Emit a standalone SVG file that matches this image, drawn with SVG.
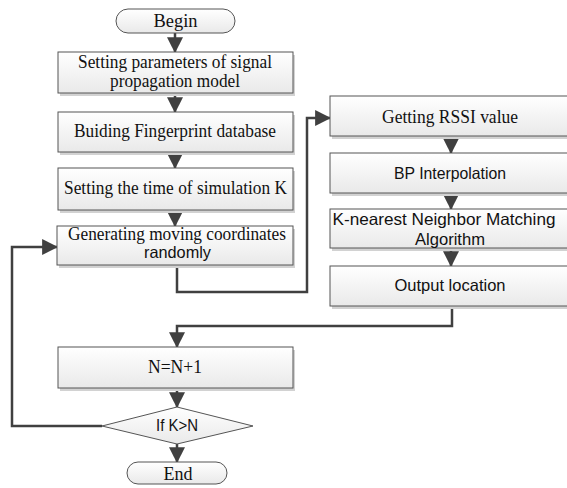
<svg xmlns="http://www.w3.org/2000/svg" width="567" height="488" viewBox="0 0 567 488">
<defs>
<linearGradient id="g" x1="0" y1="0" x2="0" y2="1">
<stop offset="0" stop-color="#ffffff"/>
<stop offset="1" stop-color="#e9e9e9"/>
</linearGradient>
<marker id="ah" markerUnits="userSpaceOnUse" markerWidth="16" markerHeight="16" viewBox="0 0 14 14" refX="13" refY="7" orient="auto">
<path d="M0,0 L14,7 L0,14 Z" fill="#404040"/>
</marker>
</defs>
<style>
.box{fill:url(#g);stroke:#555;stroke-width:1}
.sh{fill:#d2d2d2}
.ser{font-family:"Liberation Serif","Times New Roman",serif;font-size:18px;fill:#111;text-anchor:middle}
.san{font-family:"Liberation Sans",Arial,sans-serif;font-size:16.5px;fill:#111;text-anchor:middle}
.ln{fill:none;stroke:#404040;stroke-width:2.5}
</style>
<rect width="567" height="488" fill="#fff"/>
<g id="connectors">
<path class="ln" d="M175,33 V52" marker-end="url(#ah)"/>
<path class="ln" d="M175,96 V112" marker-end="url(#ah)"/>
<path class="ln" d="M175,155 V168" marker-end="url(#ah)"/>
<path class="ln" d="M175,213 V226" marker-end="url(#ah)"/>
<path class="ln" d="M177,265 V292 H307 V118 H330" marker-end="url(#ah)"/>
<path class="ln" d="M451,139 V153" marker-end="url(#ah)"/>
<path class="ln" d="M451,196 V209" marker-end="url(#ah)"/>
<path class="ln" d="M451,251 V266" marker-end="url(#ah)"/>
<path class="ln" d="M452,306 V326 H177 V347" marker-end="url(#ah)"/>
<path class="ln" d="M177,391 V407" marker-end="url(#ah)"/>
<path class="ln" d="M177,444 V462" marker-end="url(#ah)"/>
<path class="ln" d="M102,426 H12 V247 H57" marker-end="url(#ah)"/>
</g>
<g id="begin">
<rect x="116" y="9" width="119" height="24" rx="12" class="box"/>
<text x="175.5" y="27" class="ser" textLength="44" lengthAdjust="spacingAndGlyphs">Begin</text>
</g>
<g id="setparams">
<rect x="60" y="55" width="235" height="41" class="sh"/>
<rect x="58" y="52" width="235" height="41" class="box"/>
<text x="175" y="68" class="ser" textLength="194" lengthAdjust="spacingAndGlyphs">Setting parameters of signal</text>
<text x="175" y="87" class="ser" textLength="130" lengthAdjust="spacingAndGlyphs">propagation model</text>
</g>
<g id="fingerprint">
<rect x="60" y="115" width="235" height="40" class="sh"/>
<rect x="58" y="112" width="235" height="40" class="box"/>
<text x="175" y="137" class="ser" textLength="202" lengthAdjust="spacingAndGlyphs">Buiding Fingerprint database</text>
</g>
<g id="simtime">
<rect x="60" y="171" width="235" height="42" class="sh"/>
<rect x="58" y="168" width="235" height="42" class="box"/>
<text x="175.5" y="194" class="ser" textLength="223" lengthAdjust="spacingAndGlyphs">Setting the time of simulation K</text>
</g>
<g id="generating">
<rect x="59" y="229" width="236" height="39" class="sh"/>
<rect x="57" y="226" width="236" height="39" class="box"/>
<text x="177" y="240" class="ser" textLength="218" lengthAdjust="spacingAndGlyphs">Generating moving coordinates</text>
<text x="177.5" y="258" class="san" textLength="67" lengthAdjust="spacingAndGlyphs">randomly</text>
</g>
<g id="rssi">
<rect x="332" y="99" width="242" height="40" class="sh"/>
<rect x="330" y="96" width="242" height="40" class="box"/>
<text x="450" y="123" class="ser" textLength="136" lengthAdjust="spacingAndGlyphs">Getting RSSI value</text>
</g>
<g id="bp">
<rect x="332" y="156" width="242" height="40" class="sh"/>
<rect x="330" y="153" width="242" height="40" class="box"/>
<text x="450" y="179" class="san" textLength="112" lengthAdjust="spacingAndGlyphs">BP Interpolation</text>
</g>
<g id="knn">
<rect x="332" y="212" width="242" height="39" class="sh"/>
<rect x="330" y="209" width="242" height="39" class="box"/>
<text x="444" y="225" class="san" textLength="223" lengthAdjust="spacingAndGlyphs">K-nearest Neighbor Matching</text>
<text x="450" y="245" class="san" textLength="70" lengthAdjust="spacingAndGlyphs">Algorithm</text>
</g>
<g id="output">
<rect x="332" y="269" width="242" height="40" class="sh"/>
<rect x="330" y="266" width="242" height="40" class="box"/>
<text x="450" y="291" class="san" textLength="111" lengthAdjust="spacingAndGlyphs">Output location</text>
</g>
<g id="increment">
<rect x="60" y="350" width="235" height="41" class="sh"/>
<rect x="58" y="347" width="235" height="41" class="box"/>
<text x="175" y="373" class="ser" textLength="54" lengthAdjust="spacingAndGlyphs">N=N+1</text>
</g>
<g id="decision">
<polygon points="102,426 177,407 253,426 177,444" class="box"/>
<text x="177" y="431" class="san" textLength="42" lengthAdjust="spacingAndGlyphs">If K&gt;N</text>
</g>
<g id="end">
<rect x="127" y="462" width="100" height="22" rx="11" class="box"/>
<text x="178" y="480" class="ser" textLength="29" lengthAdjust="spacingAndGlyphs">End</text>
</g>
</svg>
